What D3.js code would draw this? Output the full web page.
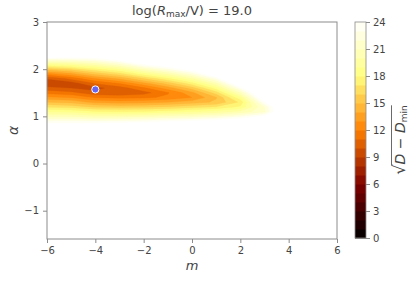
<!DOCTYPE html>
<html>
<head>
<meta charset="utf-8">
<script src="https://cdn.jsdelivr.net/npm/d3@7"></script>
<style>
  body { margin: 0; background: #fff; }
  text { font-family: "DejaVu Sans", sans-serif; fill: #444; }
</style>
</head>
<body>
<div id="chart"></div>
<script>
(function () {
    var width = 412,
        height = 281;

    // grid of sqrt(D - Dmin)
    var ms = [-6, -5, -4, -3, -2, -1, 0, 1, 2, 3, 4];
    var alphas = [2.5, 2.4, 2.3, 2.2, 2.1, 2.0, 1.9, 1.8, 1.7, 1.6, 1.5, 1.4, 1.3, 1.2, 1.1, 1.0, 0.9, 0.8, 0.7];
    var zRows = [
        [35.0, 33.4, 32.3, 33.8, 34.0, 35.0, 36.0, 37.0, 38.0, 36.0, 38.0],
        [30.3, 29.7, 29.1, 30.7, 33.3, 33.5, 34.5, 35.5, 37.0, 35.0, 37.0],
        [26.3, 26.1, 26.1, 27.6, 30.1, 31.8, 33.0, 34.0, 36.0, 34.0, 36.0],
        [22.5, 22.6, 23.1, 24.6, 27.0, 28.6, 30.8, 32.5, 35.0, 33.0, 35.0],
        [18.9, 19.4, 20.3, 21.7, 24.0, 25.7, 27.9, 31.0, 34.0, 32.5, 34.0],
        [15.6, 16.4, 17.7, 19.0, 21.2, 22.9, 25.1, 28.7, 32.5, 32.0, 33.0],
        [12.6, 13.7, 15.3, 16.5, 18.5, 20.2, 22.4, 25.9, 31.0, 32.0, 32.0],
        [10.1, 11.3, 13.0, 14.2, 16.0, 17.8, 19.9, 23.2, 29.2, 31.0, 31.0],
        [9.2, 9.5, 11.1, 12.1, 13.7, 15.5, 17.6, 20.7, 26.2, 30.0, 30.5],
        [10.3, 10.0, 9.7, 10.5, 11.8, 13.5, 15.5, 18.5, 23.5, 29.0, 30.0],
        [11.7, 11.3, 10.3, 10.2, 10.6, 11.9, 13.7, 16.5, 21.0, 27.5, 29.5],
        [13.2, 12.9, 11.9, 11.7, 11.8, 12.2, 13.0, 14.9, 18.8, 26.0, 29.0],
        [15.0, 14.7, 13.7, 13.5, 13.6, 14.0, 14.5, 15.2, 17.2, 24.0, 28.5],
        [16.9, 16.6, 15.8, 15.7, 15.8, 16.1, 16.6, 17.1, 18.2, 22.0, 28.0],
        [18.9, 18.7, 18.1, 18.0, 18.1, 18.5, 18.9, 19.4, 20.3, 21.8, 28.0],
        [20.9, 20.8, 20.4, 20.5, 20.7, 21.2, 21.5, 22.0, 22.9, 24.5, 28.5],
        [23.1, 23.1, 23.0, 23.2, 23.4, 24.0, 24.3, 24.9, 25.8, 26.5, 29.0],
        [25.3, 25.4, 25.6, 26.0, 26.3, 27.0, 27.2, 27.9, 28.8, 28.0, 30.0],
        [27.7, 27.8, 28.3, 28.8, 29.3, 30.1, 30.3, 31.0, 31.5, 29.5, 31.0]
    ];
    var best = {m: -4.0, alpha: 1.57};

    var xTicks = [-6, -4, -2, 0, 2, 4, 6];
    var yTicks = [-1, 0, 1, 2, 3];
    var cTicks = [0, 3, 6, 9, 12, 15, 18, 21, 24];
    var levels = d3.range(0, 25, 1);

    var x0 = 47, x1 = 337, y0 = 22, y1 = 239;
    var x = d3.scaleLinear().domain([-6, 6]).range([x0, x1]);
    var y = d3.scaleLinear().domain([-1.6, 3]).range([y1, y0]);

    // matplotlib afmhot
    function afmhot(t) {
        var c = function (v) { return Math.round(255 * Math.max(0, Math.min(1, v))); };
        return "rgb(" + c(2 * t) + "," + c(2 * t - 0.5) + "," + c(2 * t - 1) + ")";
    }
    function bandColor(k) { return afmhot((k + 0.5) / 24); }

    var svg = d3.select("#chart").append("svg")
        .attr("width", width)
        .attr("height", height);

    svg.append("defs").append("clipPath").attr("id", "clip")
        .append("rect").attr("x", x0).attr("y", y0)
        .attr("width", x1 - x0).attr("height", y1 - y0);

    // filled contours: paint {z <= k+1} from largest down
    var nx = ms.length, ny = alphas.length;
    var vals = [];
    zRows.forEach(function (row) { row.forEach(function (v) { vals.push(-v); }); });

    var dm = ms[1] - ms[0], da = alphas[1] - alphas[0];
    var thr = levels.slice(1).map(function (l) { return -l; }).reverse(); // -24 .. -1
    var contours = d3.contours().size([nx, ny]).thresholds(thr)(vals);

    var proj = d3.geoTransform({
        point: function (px, py) {
            this.stream.point(x(ms[0] + (px - 0.5) * dm), y(alphas[0] + (py - 0.5) * da));
        }
    });
    var path = d3.geoPath(proj);

    svg.append("g").attr("clip-path", "url(#clip)")
        .selectAll("path")
        .data(contours)
        .enter().append("path")
        .attr("d", path)
        .attr("fill", function (d) { return bandColor(-d.value - 1); })
        .attr("stroke", function (d) { return bandColor(-d.value - 1); })
        .attr("stroke-width", 0.3);

    // best point
    svg.append("circle")
        .attr("cx", x(best.m))
        .attr("cy", y(best.alpha))
        .attr("r", 3.6)
        .attr("fill", "#6666f2")
        .attr("stroke", "#fff")
        .attr("stroke-width", 1);

    // frame
    svg.append("rect")
        .attr("x", x0).attr("y", y0)
        .attr("width", x1 - x0).attr("height", y1 - y0)
        .attr("fill", "none").attr("stroke", "#8c8c8c").attr("stroke-width", 1);

    var fmt = function (d) { return d < 0 ? "\u2212" + (-d) : d; };
    var xAxis = svg.append("g").attr("transform", "translate(0," + y1 + ")")
        .call(d3.axisBottom(x).tickValues(xTicks).tickSize(4).tickPadding(4).tickFormat(fmt));
    var yAxis = svg.append("g").attr("transform", "translate(" + x0 + ",0)")
        .call(d3.axisLeft(y).tickValues(yTicks).tickSize(4).tickPadding(4).tickFormat(fmt));
    [xAxis, yAxis].forEach(function (a) {
        a.select(".domain").remove();
        a.selectAll("line").attr("stroke", "#8c8c8c");
        a.selectAll("text").attr("font-size", 10).style("fill", "#444")
            .attr("font-family", "DejaVu Sans");
    });

    svg.append("text")
        .attr("x", (x0 + x1) / 2).attr("y", 270)
        .attr("text-anchor", "middle")
        .attr("font-size", 13).attr("font-style", "italic")
        .text("m");

    svg.append("text")
        .attr("transform", "translate(18," + ((y0 + y1) / 2) + ") rotate(-90)")
        .attr("text-anchor", "middle")
        .attr("font-size", 14).attr("font-style", "italic")
        .text("\u03b1");

    var title = svg.append("text")
        .attr("x", (x0 + x1) / 2).attr("y", 15)
        .attr("text-anchor", "middle")
        .attr("font-size", 13);
    title.append("tspan").text("log(");
    title.append("tspan").attr("font-style", "italic").text("R");
    title.append("tspan").attr("font-size", 9).attr("dy", 2).text("max");
    title.append("tspan").attr("dy", -2).text("/V) = 19.0");

    // colorbar
    var cb0 = 355, cb1 = 366;
    var c = d3.scaleLinear().domain([0, 24]).range([238, 22]);
    svg.append("g").selectAll("rect")
        .data(levels.slice(0, 24))
        .enter().append("rect")
        .attr("x", cb0)
        .attr("y", function (d) { return c(d + 1); })
        .attr("width", cb1 - cb0)
        .attr("height", function (d) { return c(d) - c(d + 1) + 0.5; })
        .attr("fill", bandColor);
    svg.append("rect")
        .attr("x", cb0).attr("y", c(24))
        .attr("width", cb1 - cb0).attr("height", c(0) - c(24))
        .attr("fill", "none").attr("stroke", "#8c8c8c").attr("stroke-width", 0.8);

    var cAxis = svg.append("g").attr("transform", "translate(" + cb1 + ",0)")
        .call(d3.axisRight(c).tickValues(cTicks).tickSize(4).tickPadding(3));
    cAxis.select(".domain").remove();
    cAxis.selectAll("line").attr("stroke", "#8c8c8c");
    cAxis.selectAll("text").attr("font-size", 10).style("fill", "#444");

    // colorbar label: sqrt(D - D_min)
    var lab = svg.append("g").attr("transform", "translate(405,140) rotate(-90)");
    var lt = lab.append("text").attr("text-anchor", "middle").attr("font-size", 14);
    lt.append("tspan").attr("font-size", 16).text("\u221a");
    lt.append("tspan").attr("font-style", "italic").text("D");
    lt.append("tspan").text(" \u2212 ");
    lt.append("tspan").attr("font-style", "italic").text("D");
    lt.append("tspan").attr("font-size", 9).attr("dy", 2).text("min");
    var bb = lt.node().getBBox();
    lab.append("line")
        .attr("x1", bb.x + 9).attr("x2", bb.x + bb.width)
        .attr("y1", bb.y + 1.5).attr("y2", bb.y + 1.5)
        .attr("stroke", "#444").attr("stroke-width", 0.8);
})();
</script>
</body>
</html>
